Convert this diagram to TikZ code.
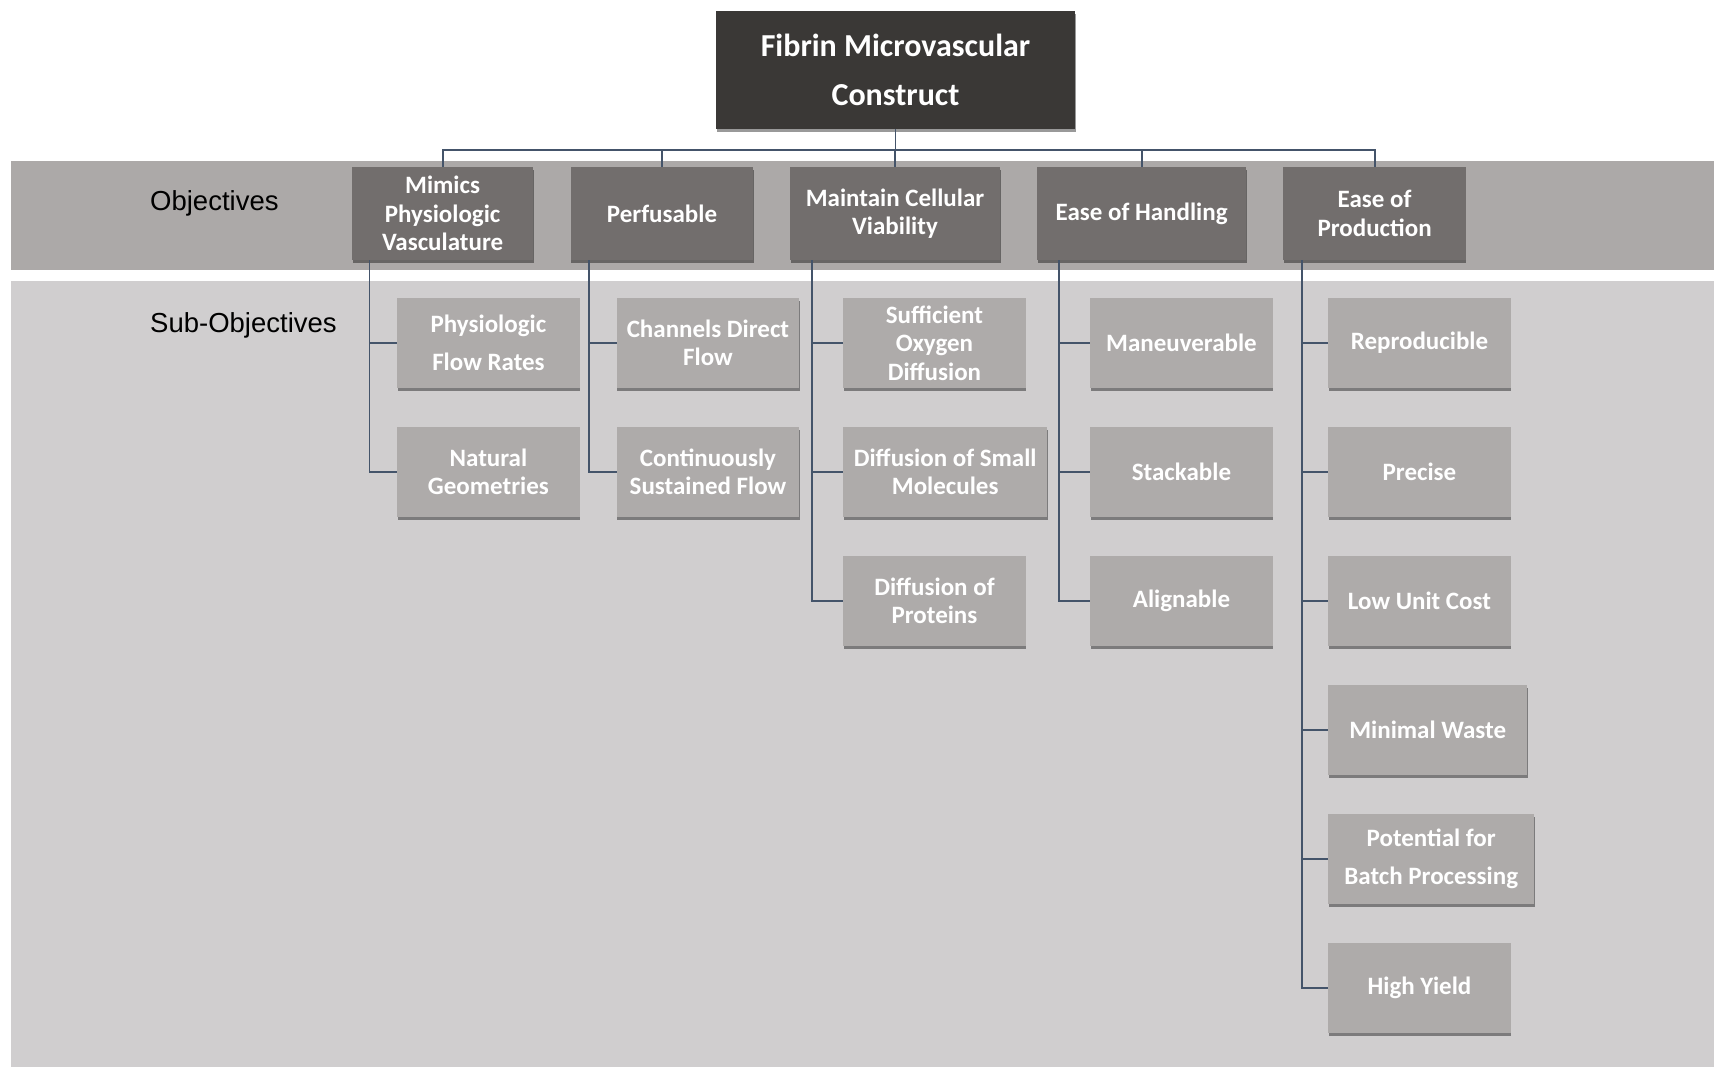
\documentclass[tikz,border=0pt]{standalone}
\usepackage{fontspec}
\setmainfont{Carlito}
\newfontfamily\labelfont{Liberation Sans}
\usetikzlibrary{shadows}
\definecolor{rootfill}{RGB}{58,56,54}
\definecolor{objfill}{RGB}{114,110,109}
\definecolor{subfill}{RGB}{174,171,170}
\definecolor{bandtop}{RGB}{172,169,168}
\definecolor{bandsub}{RGB}{208,206,207}
\definecolor{connc}{RGB}{68,84,106}
\begin{document}
\begin{tikzpicture}[x=1pt,y=-1pt,
  boxshadow/.style={drop shadow={shadow xshift=0.5pt,shadow yshift=-3pt,opacity=0.4,fill=black}},
  boxtext/.style={font=\bfseries\fontsize{25}{28.5}\selectfont, text=white, align=center, inner sep=0pt},
  wide/.style={font=\bfseries\fontsize{25}{38.5}\selectfont},
  rootbox/.style={boxtext, boxshadow, fill=rootfill, minimum width=359pt, minimum height=118pt,
    font=\bfseries\fontsize{32}{49}\selectfont},
  objbox/.style={boxtext, boxshadow, fill=objfill, minimum height=93pt},
  subbox/.style={boxtext, boxshadow, fill=subfill, minimum height=90pt, minimum width=182.5pt, anchor=west},
  rowlabel/.style={font=\labelfont\fontsize{27.5}{33}\selectfont, text=black, anchor=west, inner sep=0pt},
  conn/.style={draw=connc, line width=1.8pt},
]
\useasboundingbox (0,0) rectangle (1714,1067);

% background bands
\fill[bandtop] (11,161) rectangle (1714,270);
\fill[bandsub] (11,281) rectangle (1714,1067);

\node[rowlabel] (lobj) at (150,203) {Objectives};
\node[rowlabel] (lsub) at (150,325) {Sub-Objectives};

% top of the hierarchy
\node[rootbox] (root) at (895.5,70) {Fibrin Microvascular\\Construct};

% objectives
\node[objbox, minimum width=181pt]   (o1) at (442.6,213.5) {Mimics\\Physiologic\\Vasculature};
\node[objbox, minimum width=182.5pt] (o2) at (662,213.5)   {Perfusable};
\node[objbox, minimum width=210pt]   (o3) at (895,213.5)   {Maintain Cellular\\Viability};
\node[objbox, minimum width=209pt]   (o4) at (1141.6,213.5){Ease of Handling};
\node[objbox, minimum width=182.5pt] (o5) at (1374.6,213.5){Ease of\\Production};

% sub-objectives
\node[subbox, wide] (s11) at (397,343) {Physiologic\\Flow Rates};
\node[subbox] (s12) at (397,472) {Natural\\Geometries};

\node[subbox] (s21) at (616.5,343) {Channels Direct\\Flow};
\node[subbox] (s22) at (616.5,472) {Continuously\\Sustained Flow};

\node[subbox] (s31) at (843,343) {Sufficient\\Oxygen\\Diffusion};
\node[subbox, minimum width=204pt] (s32) at (843,472) {Diffusion of Small\\Molecules};
\node[subbox] (s33) at (843,601) {Diffusion of\\Proteins};

\node[subbox] (s41) at (1090,343) {Maneuverable};
\node[subbox] (s42) at (1090,472) {Stackable};
\node[subbox] (s43) at (1090,601) {Alignable};

\node[subbox] (s51) at (1328,343) {Reproducible};
\node[subbox] (s52) at (1328,472) {Precise};
\node[subbox] (s53) at (1328,601) {Low Unit Cost};
\node[subbox, minimum width=199pt] (s54) at (1328,730) {Minimal Waste};
\node[subbox, wide, minimum width=206pt] (s55) at (1328,859) {Potential for\\Batch Processing};
\node[subbox] (s56) at (1328,988) {High Yield};

% root to objectives
\foreach \o in {o1,o2,o3,o4,o5}
  \draw[conn] (root.south) -- ++(0,21) -| (\o.north);

% objectives to sub-objectives
\foreach \s in {s11,s12}
  \draw[conn] ([xshift=17.5pt]o1.south west) |- (\s.west);
\foreach \s in {s21,s22}
  \draw[conn] ([xshift=18.5pt]o2.south west) |- (\s.west);
\foreach \s in {s31,s32,s33}
  \draw[conn] ([xshift=22pt]o3.south west) |- (\s.west);
\foreach \s in {s41,s42,s43}
  \draw[conn] ([xshift=22pt]o4.south west) |- (\s.west);
\foreach \s in {s51,s52,s53,s54,s55,s56}
  \draw[conn] ([xshift=19pt]o5.south west) |- (\s.west);
\end{tikzpicture}
\end{document}
